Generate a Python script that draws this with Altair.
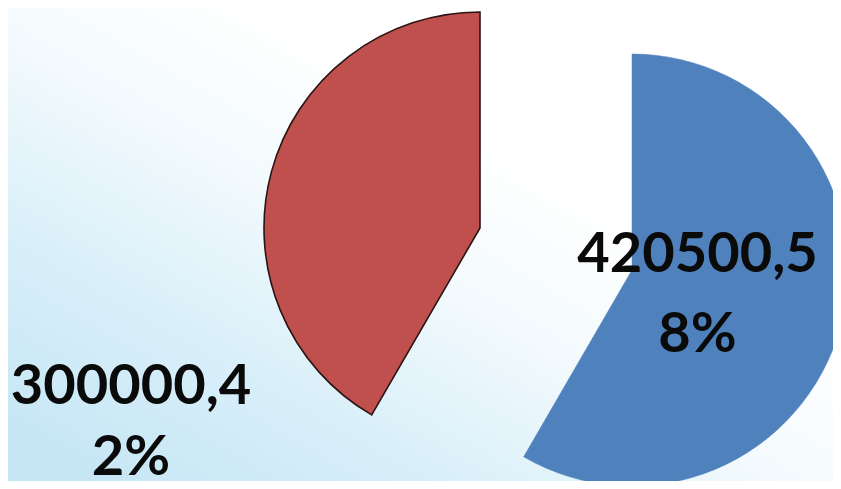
import altair as alt
import pandas as pd

# ---- data ----
categories = ["Series 1", "Series 2"]
values = [420500, 300000]
label_line1 = ["420500,5", "300000,4"]
label_line2 = ["8%", "2%"]
order = [1, 2]

df = pd.DataFrame({
    "category": categories,
    "value": values,
    "line1": label_line1,
    "line2": label_line2,
    "order": order,
})
df["label"] = df["line1"] + "\n" + df["line2"]

# ---- style ----
W, H = 825, 473
CX, CY = W / 2, H / 2
R = 216
slice_colors = ["#4F81BD", "#C0504D"]
slice_strokes = ["#4F81BD", "#2b1414"]
slice_stroke_w = [0.5, 1.6]
# exploded slice centres and label anchors (chart pixels)
slice_centres = [(624, 262), (472, 220)]
label_anchors = [(689.5, 264), (123, 396)]
label_line_heights = [80, 71]

base = alt.Chart(df).transform_joinaggregate(
    total="sum(value)"
).transform_window(
    cum="sum(value)", sort=[alt.SortField("order")]
).transform_calculate(
    start="(datum.cum - datum.value) / datum.total",
    end="datum.cum / datum.total",
)

bg = alt.Chart(df).mark_rect(
    color={
        "gradient": "linear",
        "x1": 0, "y1": 0.9, "x2": 0.6, "y2": 0.3,
        "stops": [
            {"offset": 0, "color": "#c6e6f5"},
            {"offset": 0.35, "color": "#d8eff9"},
            {"offset": 0.7, "color": "#f3fafd"},
            {"offset": 1, "color": "#ffffff"},
        ],
    }
).encode(
    x=alt.value(0), x2=alt.value(W), y=alt.value(0), y2=alt.value(H)
).transform_filter(alt.datum.order == 1)

layers = [bg]
for i, cat in enumerate(categories):
    sx, sy = slice_centres[i]
    arc = base.transform_filter(alt.datum.category == cat).mark_arc(
        outerRadius=R,
        xOffset=sx - CX,
        yOffset=sy - CY,
        color=slice_colors[i],
        stroke=slice_strokes[i],
        strokeWidth=slice_stroke_w[i],
        strokeJoin="miter",
    ).encode(
        theta=alt.Theta("start:Q", scale=alt.Scale(domain=[0, 1])),
        theta2="end:Q",
    )
    layers.append(arc)

for i, cat in enumerate(categories):
    lx, ly = label_anchors[i]
    txt = base.transform_filter(alt.datum.category == cat).mark_text(
        font="Lato",
        fontWeight="bold",
        fontSize=56,
        color="#0a0a0a",
        align="center",
        baseline="alphabetic",
        lineBreak="\n",
        lineHeight=label_line_heights[i],
        dx=lx - CX,
        dy=ly - CY,
    ).encode(
        x=alt.value(CX),
        y=alt.value(CY),
        text="label:N",
    )
    layers.append(txt)

chart = alt.layer(*layers).properties(
    width=W,
    height=H,
    padding=0,
    autosize=alt.AutoSizeParams(type="none"),
    background="#ffffff",
).configure_view(strokeWidth=0)

chart.save("out.html", embed_options={"renderer": "svg", "actions": False})
